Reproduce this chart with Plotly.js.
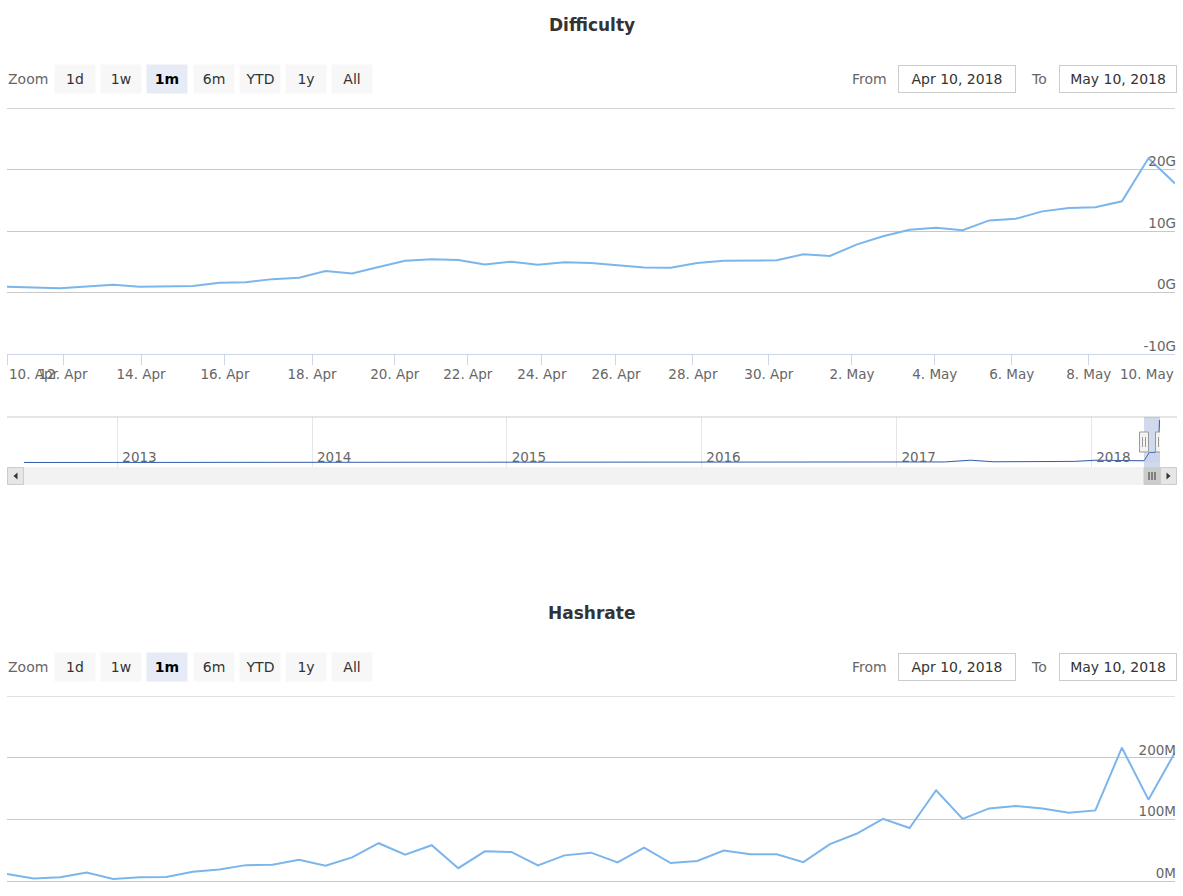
<!DOCTYPE html>
<html>
<head>
<meta charset="utf-8">
<script src="https://cdn.plot.ly/plotly-3.0.1.min.js"></script>
<style>html,body{margin:0;padding:0;background:#fff;overflow:hidden}</style>
</head>
<body>
<div id="chart" style="width:1183px;height:896px"></div>
<script>
// ---------------- data ----------------
const difficultyG = [0.93, 0.82, 0.71, 0.98, 1.26, 0.93, 0.98, 1.09, 1.58, 1.69,
  2.19, 2.40, 3.50, 3.11, 4.15, 5.19, 5.41, 5.30, 4.59, 5.03,
  4.54, 4.92, 4.81, 4.48, 4.10, 4.04, 4.81, 5.19, 5.19, 5.25,
  6.23, 5.96, 7.81, 9.18, 10.22, 10.55, 10.16, 11.75, 12.02, 13.22,
  13.77, 13.88, 14.86, 21.86, 17.76];
const hashrateM = [12.0, 4.4, 6.6, 14.2, 3.8, 6.6, 7.1, 15.3, 19.1, 26.2,
  26.8, 34.9, 25.1, 38.8, 61.7, 43.1, 58.4, 21.3, 48.6, 47.5,
  25.7, 42.0, 46.4, 30.6, 54.6, 29.5, 32.8, 49.7, 43.7, 43.7,
  31.1, 60.1, 77.0, 101.1, 86.3, 147.5, 101.1, 118.0, 121.9, 118.0,
  110.9, 114.8, 216.4, 132.2, 208.7];

// x tick labels of the ordinal axis and where each date falls in the point sequence
const xTickLabels = ['10. Apr', '12. Apr', '14. Apr', '16. Apr', '18. Apr', '20. Apr', '22. Apr', '24. Apr',
  '26. Apr', '28. Apr', '30. Apr', '2. May', '4. May', '6. May', '8. May', '10. May'];
const xTickPos = [0, 2.11, 5.05, 8.21, 11.49, 14.61, 17.36, 20.15,
  22.94, 25.84, 28.70, 31.83, 34.95, 37.85, 40.75, 43.80];

const diffTickVals = [-10, 0, 10, 20, 30];
const diffTickText = ['-10G', '0G', '10G', '20G', ''];
const hashTickVals = [0, 100, 200, 300];
const hashTickText = ['0M', '100M', '200M', ''];

// navigator (full history of difficulty, G)
const navDates = ['2012-07-10', '2013-01-01', '2013-07-01', '2014-01-01', '2014-06-01', '2014-09-01',
  '2015-01-01', '2015-06-01', '2015-09-01', '2016-01-01', '2016-06-01', '2016-12-01',
  '2017-04-01', '2017-05-20', '2017-06-10', '2017-07-01', '2017-10-01', '2017-12-01',
  '2018-01-10', '2018-02-01', '2018-03-01', '2018-04-10', '2018-04-20', '2018-05-01',
  '2018-05-04', '2018-05-08', '2018-05-09', '2018-05-10'];
const navValues = [0.02, 0.03, 0.05, 0.08, 0.3, 0.4,
  0.25, 0.4, 0.3, 0.2, 0.15, 0.2,
  0.3, 1.2, 0.9, 0.4, 0.5, 0.6,
  1.2, 1.1, 1.0, 0.9, 5.2, 5.2,
  10.2, 14.0, 21.9, 17.8];
const navStart = '2012-07-10', navEnd = '2018-05-10';

const rangeButtons = ['1d', '1w', '1m', '6m', 'YTD', '1y', 'All'];
const selectedButton = 2;
const rangeFrom = '2018-04-10', rangeTo = '2018-05-10';
const fromText = 'Apr 10, 2018', toText = 'May 10, 2018';
const titles = ['Difficulty', 'Hashrate'];

// ---------------- layout helpers ----------------
const W = 1183, H = 896;
const px = x => x / W;
const py = y => 1 - y / H;
const idx = difficultyG.map((_, i) => i);
const FONT = 'DejaVu Sans';
const lineColor = '#7cb5ec';
const gridColor = '#c8c8c8';

function rowAnnots(yc) {
  const a = [];
  const yp = py(yc);
  const base = {xref: 'paper', yref: 'paper', showarrow: false, y: yp, yanchor: 'middle'};
  a.push(Object.assign({}, base, {text: 'Zoom', x: px(6), xanchor: 'left', font: {size: 14, color: '#666'}}));
  rangeButtons.forEach((b, k) => {
    const sel = k === selectedButton;
    a.push(Object.assign({}, base, {
      text: b, x: px(54 + 46.2 * k), xanchor: 'left', width: 40, height: 28, borderpad: 0,
      bgcolor: sel ? '#e6ebf5' : '#f7f7f7',
      font: {size: 14, color: sel ? '#000' : '#333', weight: sel ? 'bold' : 'normal'}
    }));
  });
  a.push(Object.assign({}, base, {text: 'From', x: px(889), xanchor: 'right', font: {size: 14, color: '#666'}}));
  a.push(Object.assign({}, base, {text: fromText, x: px(898), xanchor: 'left', width: 116, height: 26, borderpad: 0,
    bordercolor: '#cccccc', borderwidth: 1, bgcolor: '#fff', font: {size: 14, color: '#333'}}));
  a.push(Object.assign({}, base, {text: 'To', x: px(1049), xanchor: 'right', font: {size: 14, color: '#666'}}));
  a.push(Object.assign({}, base, {text: toText, x: px(1059), xanchor: 'left', width: 116, height: 26, borderpad: 0,
    bordercolor: '#cccccc', borderwidth: 1, bgcolor: '#fff', font: {size: 14, color: '#333'}}));
  return a;
}

const annotations = [];
annotations.push({xref: 'paper', yref: 'paper', x: 0.5, y: py(25), xanchor: 'center', yanchor: 'middle', showarrow: false,
  text: titles[0], font: {size: 17, color: '#333', weight: 'bold'}});
annotations.push({xref: 'paper', yref: 'paper', x: 0.5, y: py(613), xanchor: 'center', yanchor: 'middle', showarrow: false,
  text: titles[1], font: {size: 17, color: '#333', weight: 'bold'}});
annotations.push(...rowAnnots(79));
annotations.push(...rowAnnots(667));
// edge x labels (justified inside the chart like the original)
annotations.push({xref: 'paper', yref: 'paper', x: px(7), y: py(374), xanchor: 'left', yanchor: 'middle', showarrow: false,
  text: xTickLabels[0], font: {size: 13.5, color: '#666'}});
annotations.push({xref: 'paper', yref: 'paper', x: px(1176), y: py(374), xanchor: 'right', yanchor: 'middle', showarrow: false,
  text: xTickLabels[xTickLabels.length - 1], font: {size: 13.5, color: '#666'}});

const tickText = xTickLabels.map((t, i) => (i === 0 || i === xTickLabels.length - 1) ? '' : t);

// ---------------- shapes ----------------
const shapes = [];
// top grid lines (at the very edge of each plot)
shapes.push({type: 'line', xref: 'x domain', yref: 'y', x0: 0, x1: 1,
  y0: diffTickVals[diffTickVals.length - 1], y1: diffTickVals[diffTickVals.length - 1], line: {color: gridColor, width: 1}, layer: 'below'});
shapes.push({type: 'line', xref: 'x3 domain', yref: 'y3', x0: 0, x1: 1,
  y0: hashTickVals[hashTickVals.length - 1], y1: hashTickVals[hashTickVals.length - 1], line: {color: gridColor, width: 1}, layer: 'below'});

const midMs = (Date.parse(rangeFrom) + Date.parse(rangeTo)) / 2;
const midDate = new Date(midMs).toISOString().slice(0, 19).replace('T', ' ');
// navigator outline
shapes.push({type: 'line', xref: 'paper', yref: 'paper', x0: px(7), x1: px(1177), y0: py(417), y1: py(417),
  line: {color: '#cccccc', width: 1}});
// selected zone
shapes.push({type: 'rect', xref: 'x2', yref: 'paper', x0: rangeFrom, x1: rangeTo, y0: py(467), y1: py(417),
  fillcolor: 'rgba(102,133,194,0.3)', line: {width: 0}, layer: 'above'});
// scrollbar track
shapes.push({type: 'rect', xref: 'paper', yref: 'paper', x0: px(7), x1: px(1177), y0: py(485), y1: py(467),
  fillcolor: '#f2f2f2', line: {width: 0}});
// scrollbar buttons
[[7, 24], [1160, 1177]].forEach(([a, b]) => {
  shapes.push({type: 'rect', xref: 'paper', yref: 'paper', x0: px(a + 0.5), x1: px(b - 0.5), y0: py(484.5), y1: py(467.5),
    fillcolor: '#e6e6e6', line: {color: '#cccccc', width: 1}});
});
shapes.push({type: 'path', xref: 'paper', yref: 'paper',
  path: `M ${px(17.5)} ${py(472.5)} L ${px(13.5)} ${py(476)} L ${px(17.5)} ${py(479.5)} Z`, fillcolor: '#333', line: {width: 0}});
shapes.push({type: 'path', xref: 'paper', yref: 'paper',
  path: `M ${px(1166.5)} ${py(472.5)} L ${px(1170.5)} ${py(476)} L ${px(1166.5)} ${py(479.5)} Z`, fillcolor: '#333', line: {width: 0}});
// scrollbar thumb
shapes.push({type: 'rect', xref: 'x2', yref: 'paper', x0: rangeFrom, x1: rangeTo, y0: py(484.5), y1: py(467.5),
  fillcolor: '#cccccc', line: {color: '#cccccc', width: 1}});
[-3, 0, 3].forEach(o => {
  shapes.push({type: 'line', xref: 'x2', yref: 'paper', xsizemode: 'pixel', xanchor: midDate, x0: o, x1: o,
    y0: py(472), y1: py(480), line: {color: '#333', width: 1}});
});
// handles
[rangeFrom, rangeTo].forEach(d => {
  shapes.push({type: 'rect', xref: 'x2', yref: 'paper', xsizemode: 'pixel', xanchor: d, x0: -4.5, x1: 4.5,
    y0: py(452), y1: py(432), fillcolor: '#f2f2f2', line: {color: '#999', width: 1}, layer: 'above'});
  [-1.5, 1.5].forEach(o => {
    shapes.push({type: 'line', xref: 'x2', yref: 'paper', xsizemode: 'pixel', xanchor: d, x0: o, x1: o,
      y0: py(437), y1: py(447), line: {color: '#999', width: 1}, layer: 'above'});
  });
});

// ---------------- traces ----------------
const traces = [
  {x: idx, y: difficultyG, xaxis: 'x', yaxis: 'y', type: 'scatter', mode: 'lines',
    line: {color: lineColor, width: 2}, hoverinfo: 'skip'},
  {x: navDates, y: navValues, xaxis: 'x2', yaxis: 'y2', type: 'scatter', mode: 'lines',
    line: {color: '#335cad', width: 1}, fill: 'tozeroy', fillcolor: 'rgba(51,92,173,0.05)', hoverinfo: 'skip'},
  {x: idx, y: hashrateM, xaxis: 'x3', yaxis: 'y3', type: 'scatter', mode: 'lines',
    line: {color: lineColor, width: 2}, hoverinfo: 'skip'}
];

const yCommon = {
  side: 'right', ticklabelposition: 'inside', ticks: '', zeroline: false, showline: false,
  gridcolor: gridColor, gridwidth: 1, tickfont: {size: 13.5, color: '#666'},
  ticklabelshift: -8, ticklabelstandoff: -4, fixedrange: true
};

const layout = {
  width: W, height: H,
  margin: {l: 0, r: 0, t: 0, b: 0, pad: 0},
  paper_bgcolor: '#fff', plot_bgcolor: 'rgba(0,0,0,0)',
  font: {family: FONT, color: '#333'},
  showlegend: false, hovermode: false, dragmode: false,
  xaxis: {domain: [px(7), px(1175)], range: [0, 44], anchor: 'y',
    tickmode: 'array', tickvals: xTickPos, ticktext: tickText,
    ticks: 'outside', ticklen: 10, tickcolor: '#ccd6eb', tickwidth: 1,
    showline: true, linecolor: '#ccd6eb', linewidth: 1, showgrid: false, zeroline: false,
    ticklabelstandoff: -2,
    tickfont: {size: 13.5, color: '#666'}, fixedrange: true},
  yaxis: Object.assign({}, yCommon, {domain: [py(354), py(108)], range: [-10, 30.05], anchor: 'x',
    tickmode: 'array', tickvals: diffTickVals, ticktext: diffTickText}),
  xaxis2: {domain: [px(24), px(1160)], range: [navStart, navEnd], anchor: 'y2', type: 'date',
    tickmode: 'linear', tick0: '2013-01-01', dtick: 'M12', tickformat: '%Y',
    ticklabelposition: 'inside right', ticks: '', showline: false, zeroline: false,
    ticklabelstandoff: -4, ticklabelshift: 5,
    showgrid: true, gridcolor: '#e6e6e6', tickfont: {size: 13.5, color: '#666'}, fixedrange: true},
  yaxis2: {domain: [py(467), py(417)], range: [-2.3, 23.4], anchor: 'x2', visible: false, fixedrange: true},
  xaxis3: {domain: [px(7), px(1175)], range: [0, 44], anchor: 'y3', showticklabels: false, ticks: '',
    showline: false, showgrid: false, zeroline: false, fixedrange: true},
  yaxis3: Object.assign({}, yCommon, {domain: [0, py(696)], range: [-23.8, 300.1], anchor: 'x3',
    tickmode: 'array', tickvals: hashTickVals, ticktext: hashTickText}),
  annotations: annotations,
  shapes: shapes
};

Plotly.newPlot('chart', traces, layout, {staticPlot: true, displayModeBar: false});
</script>
</body>
</html>
